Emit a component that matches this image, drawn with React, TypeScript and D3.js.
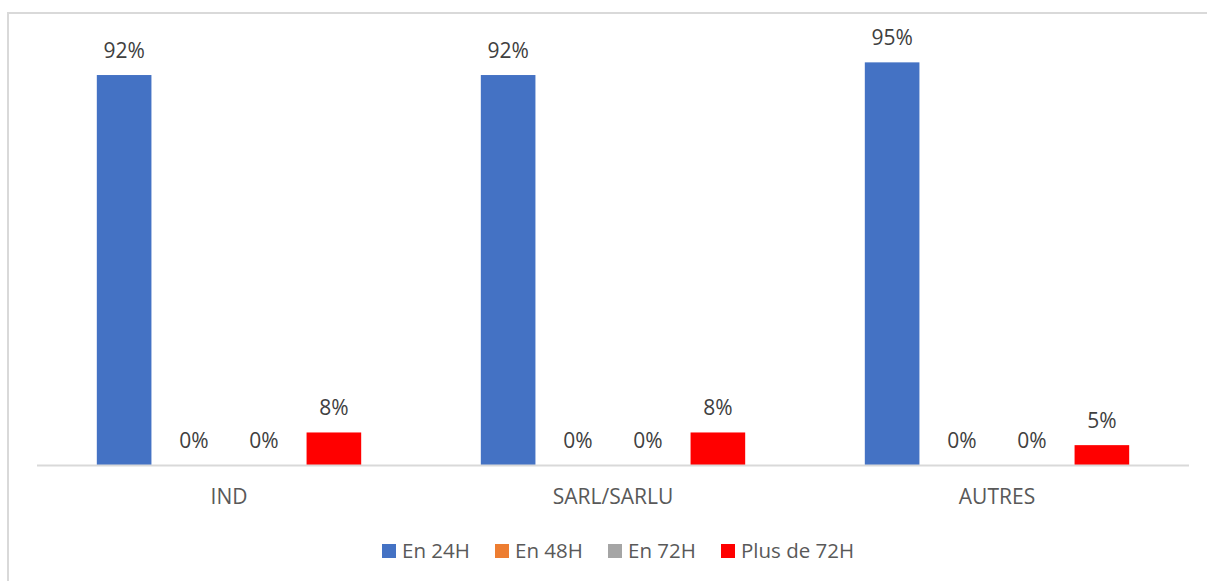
import { useMemo } from "react";
import * as d3 from "d3";

const categories = ["IND", "SARL/SARLU", "AUTRES"];
const seriesNames = ["En 24H", "En 48H", "En 72H", "Plus de 72H"];
const seriesColors = ["#4472C4", "#ED7D31", "#A5A5A5", "#FF0000"];
// share of each delay per category (rows = categories, cols = series)
const en24h = [0.923, 0.923, 0.953];
const en48h = [0, 0, 0];
const en72h = [0, 0, 0];
const plus72h = [0.077, 0.077, 0.047];

const W = 1207;
const H = 581;
const FONT = "'Open Sans', 'Segoe UI', sans-serif";

export default function App() {
  const values = [en24h, en48h, en72h, plus72h];

  const plot = { left: 37, right: 1189, top: 42.5, bottom: 465 };

  const x0 = useMemo(
    () => d3.scaleBand<string>().domain(categories).range([plot.left, plot.right]).padding(0),
    []
  );
  const y = d3.scaleLinear().domain([0, 1]).range([plot.bottom, plot.top]);

  // Excel-like gap width 219% and overlap -28%
  const gapWidth = 2.19;
  const overlap = -0.28;
  const groupW = x0.bandwidth();
  const barW = groupW / (seriesNames.length - overlap * (seriesNames.length - 1) + gapWidth);
  const step = barW * (1 - overlap);
  const x1 = d3
    .scaleLinear()
    .domain([0, seriesNames.length - 1])
    .range([(barW * gapWidth) / 2, (barW * gapWidth) / 2 + step * (seriesNames.length - 1)]);

  const fmt = d3.format(".0%");

  const legendStep = 113;
  const legendW = 470;
  const legendX = (plot.left + plot.right) / 2 + 4 - legendW / 2;

  return (
    <svg
      width={W}
      height={H}
      style={{ position: "absolute", left: 0, top: 0, background: "#fff" }}
      fontFamily={FONT}
    >
      <rect x={8} y={13} width={W + 20} height={H + 20} fill="#fff" stroke="#D9D9D9" strokeWidth={2} />

      {categories.map((cat, ci) => (
        <g key={cat} transform={`translate(${x0(cat)},0)`}>
          {seriesNames.map((s, si) => {
            const v = values[si][ci];
            const bx = x1(si);
            return (
              <g key={s}>
                {v > 0 && (
                  <rect x={bx} y={y(v)} width={barW} height={y(0) - y(v)} fill={seriesColors[si]} />
                )}
                <text
                  x={bx + barW / 2}
                  y={y(v) - 17.5}
                  textAnchor="middle"
                  fontSize={21}
                  fill="#404040"
                >
                  {fmt(v)}
                </text>
              </g>
            );
          })}
          <text x={groupW / 2} y={504} textAnchor="middle" fontSize={21} fill="#595959">
            {cat}
          </text>
        </g>
      ))}

      <line x1={plot.left} x2={plot.right} y1={plot.bottom + 0.5} y2={plot.bottom + 0.5} stroke="#D9D9D9" strokeWidth={2} />

      <g transform={`translate(${legendX},0)`}>
        {seriesNames.map((s, i) => (
          <g key={s} transform={`translate(${i * legendStep},0)`}>
            <rect x={0} y={544} width={14} height={14} fill={seriesColors[i]} />
            <text x={20} y={558} fontSize={20.5} fill="#595959">
              {s}
            </text>
          </g>
        ))}
      </g>
    </svg>
  );
}
